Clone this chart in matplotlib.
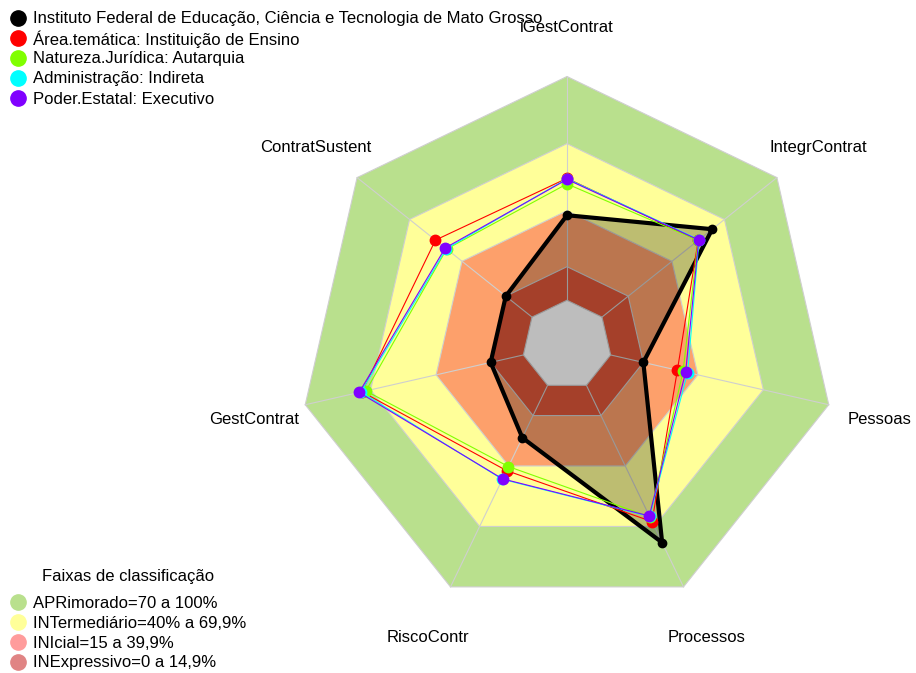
import numpy as np
import matplotlib
matplotlib.use("Agg")
import matplotlib.pyplot as plt
from matplotlib.patches import Polygon

plt.rcParams['font.family'] = ['Liberation Sans', 'DejaVu Sans']

# indicator axes, clockwise from the top
axis_labels = ['iGestContrat', 'IntegrContrat', 'Pessoas', 'Processos',
               'RiscoContr', 'GestContrat', 'ContratSustent']

# series values (%)
instituto = [38, 63, 15, 78, 26, 15, 15]
area_tematica = [54.5, 55, 30.6, 67.6, 42.3, 74, 55.2]
natureza = [52, 55, 33.2, 65.2, 40.3, 72.2, 48.8]
administracao = [54.3, 55.5, 35.3, 65, 46.6, 74.5, 49]
poder = [54, 55.3, 34.4, 64.8, 46.4, 75.3, 49.6]

series_names = ['Instituto Federal de Educação, Ciência e Tecnologia de Mato Grosso',
                'Área.temática: Instituição de Ensino',
                'Natureza.Jurídica: Autarquia',
                'Administração: Indireta',
                'Poder.Estatal: Executivo']

# classification bands (lower, upper) in %
band_limits = [(70, 100), (40, 70), (15, 40), (0, 15)]
band_names = ['APRimorado=70 a 100%', 'INTermediário=40% a 69,9%',
              'INIcial=15 a 39,9%', 'INExpressivo=0 a 14,9%']

band_colors = ['#b9e08d', '#ffff99', '#fda06b', '#df5739']
legend_band_colors = ['#b9e08d', '#ffff99', '#ff9c9c', '#e08484']
series_colors = ['black', '#ff0000', '#80ff00', '#00ffff', '#8000ff']

# radar geometry (pixels)
cx, cy = 567, 345
R = 268.5
vmin, vmax = -20, 100

n = len(axis_labels)
angles = np.pi / 2 - 2 * np.pi * np.arange(n) / n


def to_xy(values):
    r = (np.asarray(values, dtype=float) - vmin) / (vmax - vmin) * R
    return cx + r * np.cos(angles), cy - r * np.sin(angles)


def ring(v):
    x, y = to_xy([v] * n)
    return np.column_stack([x, y])


fig = plt.figure(figsize=(9.16, 6.73), dpi=100)
ax = fig.add_axes([0, 0, 1, 1])
ax.set_xlim(0, 916)
ax.set_ylim(673, 0)
ax.axis('off')

# bands, outermost first
for (lo, hi), col in zip(band_limits, band_colors):
    ax.add_patch(Polygon(ring(hi), closed=True, facecolor=col,
                         edgecolor='#cfcfcf', lw=0.8, zorder=1))
ax.add_patch(Polygon(ring(0), closed=True, facecolor='white',
                     edgecolor='#cfcfcf', lw=0.8, zorder=1))

# spokes
x0, y0 = to_xy([0] * n)
x1, y1 = to_xy([100] * n)
for i in range(n):
    ax.plot([x0[i], x1[i]], [y0[i], y1[i]], color='#cfcfcf', lw=0.8, zorder=2)

# series
all_series = [instituto, area_tematica, natureza, administracao, poder]
for k, (vals, col) in enumerate(zip(all_series, series_colors)):
    x, y = to_xy(vals)
    xc, yc = np.append(x, x[0]), np.append(y, y[0])
    if k == 0:
        ax.fill(x, y, color='black', alpha=0.26, lw=0, zorder=3)
        ax.plot(xc, yc, color=col, lw=3, zorder=4)
        ax.plot(x, y, 'o', color=col, ms=6, zorder=4)
    else:
        ax.plot(xc, yc, color=col, lw=0.8, zorder=4 + k)
        ax.plot(x, y, 'o', color=col, ms=7.5, zorder=4 + k)

# axis labels
lr = 321
for i, lab in enumerate(axis_labels):
    ax.text(cx + lr * np.cos(angles[i]), cy - lr * np.sin(angles[i]) + 3, lab,
            ha='center', va='center', fontsize=12, zorder=10)

# series legend, top left
for i, (name, col) in enumerate(zip(series_names, series_colors)):
    yy = 18 + 20 * i
    ax.plot(18, yy, 'o', color=col, ms=11, zorder=9)
    ax.text(33, yy + 1, name, ha='left', va='center', fontsize=12, zorder=9)

# band legend, bottom left
ax.text(128, 577, 'Faixas de classificação', ha='center', va='center', fontsize=12)
for i, (name, col) in enumerate(zip(band_names, legend_band_colors)):
    yy = 602 + 20 * i
    ax.plot(18, yy, 'o', color=col, ms=11)
    ax.text(33, yy + 1, name, ha='left', va='center', fontsize=12)

fig.savefig('out.png', dpi=100)
